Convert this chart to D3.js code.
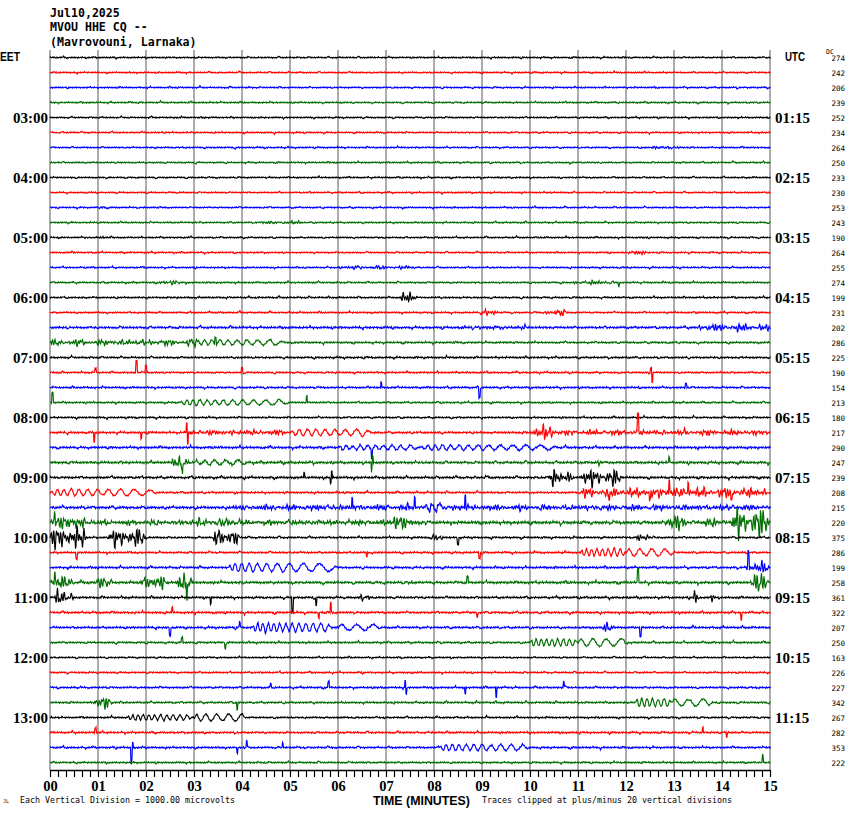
<!DOCTYPE html>
<html><head><meta charset="utf-8">
<script src="https://cdn.jsdelivr.net/npm/d3@7"></script>
<style>
html,body{margin:0;padding:0;background:#fff;}
svg{display:block;}
</style></head>
<body>
<svg id="chart" width="850" height="814"></svg>
<script>
// ---------------- DATA ----------------
const headerLines = ["Jul10,2025", "MVOU HHE CQ --", "(Mavrovouni, Larnaka)"];
const minuteTicks = d3.range(0, 16);
const leftTimes  = ["03:00","04:00","05:00","06:00","07:00","08:00","09:00","10:00","11:00","12:00","13:00"];
const rightTimes = ["01:15","02:15","03:15","04:15","05:15","06:15","07:15","08:15","09:15","10:15","11:15"];
const dcValues = [274,242,206,239,252,234,264,250,233,230,253,243,190,264,255,274,199,231,202,286,225,190,154,213,
                  180,217,290,247,239,208,215,220,375,286,199,258,361,322,207,250,163,226,227,342,267,282,353,222];
const traceColors = ["#000000","#ff0000","#0000ff","#006e00"];
// background noise level of each trace (amplitude units)
const noiseLevel = [0.8,0.8,0.8,0.8,0.8,0.8,0.8,0.8,0.8,0.8,0.8,0.8,0.8,0.8,0.8,0.85,0.9,0.9,1.2,1.0,1.0,0.9,1.0,0.9,
                    0.9,1.1,1.2,1.3,1.2,1.0,1.4,1.6,1.0,1.0,1.1,1.3,1.1,1.1,1.1,1.0,0.8,0.9,1.0,1.0,0.9,1.0,1.0,0.9];
// events per trace: [kind, startMinute, endMinute, amplitude, periodStart(s), periodEnd(s)]
// kind: b = burst of high-frequency signal, w = long-period wave train, s = single spike
const traceEvents = [
 [], [], [], [],
 [], [], [["b",12.55,13.2,1.5]], [["b",10.8,11.2,1.2]],
 [], [], [["b",0.95,1.25,2]], [["b",4.3,5.5,1.3]],
 [["b",0.6,1.2,1]], [["b",11.9,12.5,1.8]], [["b",6.0,7.8,1.6]], [["b",2.25,2.75,2.5],["b",10.9,11.8,2],["s",11.85,0,-4]],
 [["b",7.3,7.7,5]], [["b",8.95,9.35,4],["b",10.3,10.8,3]], [["b",13.5,15,3.5],["b",8.5,10,1.5]], [["b",0,3.2,3],["w",2.8,4.9,2.5,7,15],["s",3.45,0,7]],
 [], [["s",1.8,0,12],["s",2.0,0,7],["s",4.0,0,5],["s",12.55,0,-10],["s",12.52,0,5],["s",0.95,0,4]],
 [["s",8.95,0,-10],["s",6.9,0,5],["s",13.25,0,4]], [["s",0.05,0,10],["w",2.7,5.0,2.5,7,16],["s",5.35,0,7]],
 [], [["s",0.92,0,-10],["s",1.9,0,-6],["s",2.85,0,9],["s",2.87,0,-10],["b",2.85,5.0,2.5],["w",5.0,6.7,3,9,15],["b",10.05,10.5,6],["b",10,15,2.5],["s",12.25,0,19]],
 [["w",6.0,7.7,2.2,8,12],["s",6.7,0,-8],["w",7.7,10.6,2.5,8,18]], [["b",2.5,3.0,5],["s",2.75,0,-10],["w",3.0,4.1,2.5,10,17],["s",6.7,0,-10],["s",6.72,0,6],["b",11.4,11.7,3],["s",12.9,0,6]],
 [["s",5.3,0,6],["s",5.85,0,-6],["s",5.87,0,6],["b",10.4,10.9,9],["b",11.05,11.9,9],["b",8.8,9.2,2]],
 [["w",0,2.2,3,7,18],["b",11.05,15,5],["s",11.65,0,-10],["s",12.5,0,-8],["s",12.9,0,12],["s",13.3,0,10],["s",14.2,0,-8]],
 [["b",3.8,15,2.5],["s",6.3,0,10],["s",7.6,0,10],["w",7.8,8.2,4,7,11],["s",8.65,0,12]],
 [["b",0,0.75,5],["s",0.1,0,10],["b",2.8,3.0,8],["b",3.0,4.0,4],["b",7.1,7.55,7],["b",0,8,2],["b",12.8,13.3,8],["b",13.6,13.9,10],["b",14.2,15,16]],
 [["b",0,0.8,12],["b",1.2,2.0,10],["b",3.4,3.95,10],["b",7.9,8.2,3],["s",8.5,0,-7],["b",12.2,12.55,5]],
 [["s",0.55,0,-6],["s",6.6,0,-4],["s",8.95,0,-6],["w",11.05,12,3.5,6,8],["w",12,13,3.5,13,18]],
 [["w",3.7,6.0,4,7,20],["b",14.5,15,7],["s",14.55,0,12]],
 [["b",0,0.6,6],["s",0.1,0,10],["b",0.95,1.3,6],["b",1.9,2.45,8],["b",2.65,3.0,9],["s",2.85,0,-20],["b",7.45,7.6,5],["s",8.7,0,6],["s",12.25,0,14],["b",14.6,15,10]],
 [["b",0.1,0.55,8],["s",3.35,0,-6],["s",5.05,0,-15],["s",5.55,0,-8],["b",6.45,6.7,6],["b",13.4,13.55,7],["b",13.75,13.85,7]],
 [["s",2.55,0,5],["s",5.6,0,-6],["s",5.85,0,10],["s",8.9,0,-5],["s",14.4,0,-8]],
 [["s",2.5,0,-8],["s",3.95,0,6],["w",4.2,5.9,4,6,10],["w",6.0,6.9,3,18,22],["b",11.5,11.75,5],["s",12.3,0,-8]],
 [["s",2.75,0,5],["s",3.65,0,-6],["w",10,11,3.5,6,8],["w",11,12.05,3.5,14,20]],
 [], [],
 [["s",4.6,0,3],["s",5.8,0,6],["s",7.4,0,7],["s",7.42,0,-7],["s",8.65,0,-6],["s",9.3,0,-10],["s",10.7,0,6]],
 [["b",0.9,1.3,7],["s",3.9,0,-7],["w",12.2,12.95,4,6,8],["w",12.95,13.8,3.5,16,20]],
 [["w",1.6,3.0,2.5,6,9],["w",3.0,4.1,3.5,11,18]],
 [["s",0.95,0,5],["s",13.6,0,5],["s",14.1,0,-5]],
 [["s",1.7,0,-16],["s",1.72,0,5],["s",3.9,0,-6],["s",4.1,0,7],["s",4.85,0,5],["w",8.1,10.0,3,7,14]],
 [["s",14.85,0,8]]
];

// ---------------- CHART ----------------
const svg = d3.select("#chart");
const W = 850, H = 814;
const plotL = 50, plotR = 770, plotT = 50, plotB = 770;
const x = d3.scaleLinear().domain([0, 15]).range([plotL, plotR]);
const y = d3.scalePoint().domain(d3.range(dcValues.length)).range([57.5, 762.5]);
const amp = d3.scaleLinear().domain([-20, 20]).range([20, -20]);

svg.append("rect").attr("width", W).attr("height", H).attr("fill", "#fff");

// header
svg.append("g").selectAll("text").data(headerLines).join("text")
  .attr("x", 50).attr("y", (d, i) => 16.5 + i * 14.5)
  .attr("font-family", "DejaVu Sans Mono, monospace").attr("font-size", 11.6)
  .attr("font-weight", "bold")
  .text(d => d);

// vertical minute grid
svg.append("g").selectAll("line").data(minuteTicks).join("line")
  .attr("x1", d => x(d)).attr("x2", d => x(d))
  .attr("y1", plotT).attr("y2", plotB)
  .attr("stroke", "#909090").attr("stroke-width", 1.5);

// traces
const px = d3.range(0, plotR - plotL + 1, 0.5);
function carrier(i, s) {
  const t = Math.sin(i * 0.83 + s) * Math.sin(i * 0.31 + 2 * s) * Math.sin(i * 0.117 + s);
  return 0.45 * Math.sin(i * 2.93 + s) + 0.3 * Math.sin(i * 4.71 + 2.1 * s) + 0.15 * Math.sin(i * 0.613 + 3.7 * s)
       + 1.6 * t * t * t;
}
function burstCarrier(i, s) {
  const c = 0.4 * Math.sin(i * 2.71 + s) + 0.35 * Math.sin(i * 1.87 + 1.7 * s) + 0.25 * Math.sin(i * 0.93 + s * 0.3);
  const m = Math.sin(i * 0.137 + s);
  return c * (0.3 + 0.7 * m * m);
}
const lineGen = d3.line().x(d => d[0]).y(d => d[1]);

dcValues.forEach((dc, k) => {
  const evs = traceEvents[k] || [];
  const base = y(k);
  const pts = px.map(p => {
    const m = x.invert(plotL + p);
    let v = noiseLevel[k] * carrier(p, k * 1.37);
    evs.forEach(e => {
      const [kind, m0, m1, a, p0, p1] = e;
      if (kind === "b" && m >= m0 && m <= m1) {
        const env = Math.min(1, (m - m0) / 0.03) * Math.min(1, (m1 - m) / 0.12 + 0.15);
        v += a * env * burstCarrier(p, k * 0.71 + m0) * 1.3;
      } else if (kind === "w" && m >= m0 && m <= m1) {
        const f = (m - m0) / (m1 - m0);
        const secs = (m - m0) * 60;
        const per = p0 + (p1 - p0) * f * 0.5;
        const env = Math.min(1, f / 0.05) * Math.min(1, (1 - f) / 0.08);
        v += a * env * Math.sin(2 * Math.PI * secs / per);
      } else if (kind === "s") {
        const sp = x(m0) - plotL;
        if (Math.abs(p - sp) < 0.6) v += a;
      }
    });
    v = Math.max(-20, Math.min(20, v));
    return [plotL + p, base + amp(v)];
  });
  svg.append("path").attr("d", lineGen(pts))
    .attr("fill", "none").attr("stroke", traceColors[k % 4]).attr("stroke-width", 1.15);
});

// bottom axis
const minorTicks = d3.range(0, 91).map(k => k / 6);
const axis = d3.axisBottom(x).tickValues(minorTicks).tickSize(7).tickSizeOuter(0)
  .tickFormat((d, i) => i % 6 === 0 ? d3.format("02d")(Math.round(d)) : "");
const gAxis = svg.append("g").attr("transform", `translate(0,${plotB})`).call(axis);
gAxis.select(".domain").attr("stroke", "#000").attr("stroke-width", 1.5);
gAxis.selectAll(".tick line").attr("stroke", "#000").attr("stroke-width", 1.2);
gAxis.selectAll(".tick text").attr("y", 21).attr("dy", 0)
  .attr("font-family", "Liberation Serif, serif").attr("font-weight", "bold").attr("font-size", 14.5).attr("fill", "#000");

// left / right hour labels
const hourIdx = leftTimes.map((t, i) => 4 + i * 4);
svg.append("g").selectAll("text").data(leftTimes).join("text")
  .attr("x", 48).attr("y", (d, i) => y(hourIdx[i]) + 5.5).attr("text-anchor", "end")
  .attr("font-family", "Liberation Serif, serif").attr("font-weight", "bold").attr("font-size", 15)
  .text(d => d);
svg.append("g").selectAll("text").data(rightTimes).join("text")
  .attr("x", 775).attr("y", (d, i) => y(hourIdx[i]) + 5.5)
  .attr("font-family", "Liberation Serif, serif").attr("font-weight", "bold").attr("font-size", 15)
  .text(d => d);

svg.append("text").attr("x", 0).attr("y", 61).attr("font-family", "Liberation Sans, sans-serif")
  .attr("font-weight", "bold").attr("font-size", 13).attr("textLength", 20).attr("lengthAdjust", "spacingAndGlyphs").text("EET");
svg.append("text").attr("x", 785).attr("y", 61).attr("font-family", "Liberation Sans, sans-serif")
  .attr("font-weight", "bold").attr("font-size", 13).attr("textLength", 20).attr("lengthAdjust", "spacingAndGlyphs").text("UTC");

// DC values
svg.append("g").selectAll("text").data(dcValues).join("text")
  .attr("x", 845).attr("y", (d, i) => y(i) + 3.2).attr("text-anchor", "end")
  .attr("font-family", "DejaVu Sans Mono, monospace").attr("font-size", 7.5)
  .text(d => d);
svg.append("text").attr("x", 826).attr("y", 54).attr("font-family", "DejaVu Sans Mono, monospace")
  .attr("font-size", 6.5).text("DC");

// footer
svg.append("text").attr("x", 373).attr("y", 805).attr("font-family", "Liberation Sans, sans-serif")
  .attr("font-weight", "bold").attr("font-size", 12).attr("textLength", 97).attr("lengthAdjust", "spacingAndGlyphs")
  .text("TIME (MINUTES)");
svg.append("text").attr("x", 20).attr("y", 803).attr("font-family", "DejaVu Sans Mono, monospace")
  .attr("font-size", 8.2).attr("textLength", 215).attr("lengthAdjust", "spacingAndGlyphs")
  .text("Each Vertical Division = 1000.00 microvolts");
svg.append("text").attr("x", 482).attr("y", 803).attr("font-family", "DejaVu Sans Mono, monospace")
  .attr("font-size", 8.2).attr("textLength", 250).attr("lengthAdjust", "spacingAndGlyphs")
  .text("Traces clipped at plus/minus 20 vertical divisions");
svg.append("text").attr("x", 3).attr("y", 803).attr("font-family", "DejaVu Sans Mono, monospace")
  .attr("font-size", 5).text("JL");
</script>
</body></html>
